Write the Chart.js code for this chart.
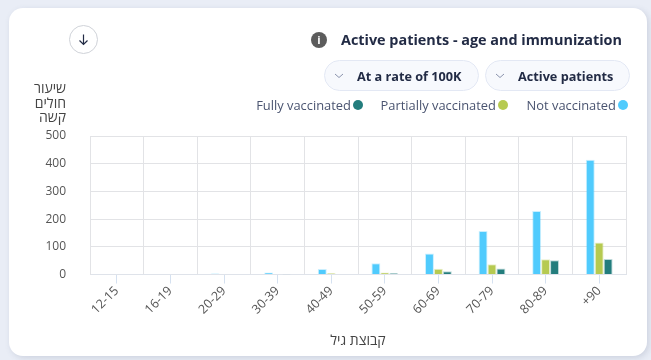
<!DOCTYPE html>
<html>
<head>
<meta charset="utf-8">
<script src="https://cdn.jsdelivr.net/npm/chart.js@4/dist/chart.umd.min.js"></script>
<style>
  html, body { margin: 0; padding: 0; width: 651px; height: 360px; overflow: hidden; background: #e9edf6; font-family: "Open Sans", sans-serif; }
  #card { position: absolute; left: 9px; top: 8px; width: 638px; height: 348px; background: #fff; border-radius: 14px; box-shadow: 2px 2px 6px rgba(80, 90, 120, 0.18); }
  #chart { position: absolute; left: 0; top: 0; }
  .abs { position: absolute; white-space: nowrap; }
  #download { left: 69px; top: 25px; width: 27px; height: 27px; border: 1px solid #cfd2d8; border-radius: 50%; background: #fff; }
  #info { left: 311px; top: 32px; width: 16px; height: 16px; border-radius: 50%; background: #5c5c5c; color: #fff; font: bold 11px/16px "Open Sans", sans-serif; text-align: center; }
  #title { right: 29px; top: 30px; font-size: 14.4px; line-height: 20px; font-weight: 700; color: #222b45; }
  .pill { top: 60px; height: 31px; box-sizing: border-box; border: 1px solid #e3e8f4; border-radius: 16px; background: #f7f9fd; font-size: 12.7px; line-height: 30px; font-weight: 700; color: #222b45; }
  .pill span { position: absolute; top: 0; }
  .pill svg { position: absolute; left: 9px; top: 12px; }
  #legend { top: 96px; font-size: 12.9px; line-height: 18px; color: #4a5470; }
  .legend-item { position: absolute; top: 0; white-space: nowrap; }
  .legend-item i { position: absolute; top: 4px; width: 10px; height: 10px; border-radius: 50%; }
  #ytitle { right: 585px; top: 81px; font-size: 14px; line-height: 14.5px; color: #444; text-align: right; direction: rtl; }
</style>
</head>
<body>
<div id="card"></div>
<canvas id="chart" width="651" height="360"></canvas>

<div id="download" class="abs">
  <svg width="27" height="27" viewBox="0 0 27 27"><path d="M13.5 8.5v9.5M9.5 14.5l4 4 4-4" fill="none" stroke="#222b45" stroke-width="1.2"/></svg>
</div>
<div id="info" class="abs">i</div>
<div id="title" class="abs"></div>
<div id="pill1" class="abs pill" style="left:324px;width:155px"><svg width="10" height="6"><path d="M1 1l4 3.5L9 1" fill="none" stroke="#8a93ad"/></svg><span style="left:32px"></span></div>
<div id="pill2" class="abs pill" style="left:485px;width:145px"><svg width="10" height="6"><path d="M1 1l4 3.5L9 1" fill="none" stroke="#8a93ad"/></svg><span style="left:32px"></span></div>
<div id="legend" class="abs" style="left:0;width:651px;height:18px"></div>
<div id="ytitle" class="abs"></div>

<script>
// --- DATA ---
const ageGroups = ["12-15", "16-19", "20-29", "30-39", "40-49", "50-59", "60-69", "70-79", "80-89", "+90"];
const notVaccinated = [0, 2, 4, 7, 20, 41, 76, 157, 229, 414];
const partlyVaccinated = [0, 0, 0, 2, 5, 7, 21, 37, 55, 116];
const fullyVaccinated = [0, 0, 0, 1, 2, 5, 12, 22, 52, 56];
const yTicks = [0, 100, 200, 300, 400, 500];

const seriesNames = ["Not vaccinated", "Partially vaccinated", "Fully vaccinated"];
const seriesColors = ["#50cbfd", "#b6ca51", "#237d7d"];
const seriesEdges = ["rgba(80,203,253,0.3)", "rgba(182,202,81,0.3)", "rgba(35,125,125,0.3)"];

const titleText = "Active patients - age and immunization";
const pillTexts = ["At a rate of 100K", "Active patients"];
const yTitleLines = ["שיעור", "חולים", "קשה"];
const xTitleText = "קבוצת גיל";

// --- TEXTS ---
document.getElementById("title").textContent = titleText;
document.querySelector("#pill1 span").textContent = pillTexts[0];
document.querySelector("#pill2 span").textContent = pillTexts[1];
document.getElementById("ytitle").innerHTML = yTitleLines.join("<br>");

// --- LEGEND ---
const legendEnds = [616, 496, 351]; // right edge of each label
const legend = document.getElementById("legend");
seriesNames.forEach((name, i) => {
  const item = document.createElement("div");
  item.className = "legend-item";
  item.style.right = 651 - legendEnds[i] + "px";
  item.textContent = name;
  const dot = document.createElement("i");
  dot.style.background = seriesColors[i];
  dot.style.right = "-12px";
  item.appendChild(dot);
  legend.appendChild(item);
});

// --- CHART ---
const gridColor = "#e2e3e6";

new Chart(document.getElementById("chart"), {
  type: "bar",
  data: {
    labels: ageGroups,
    datasets: [notVaccinated, partlyVaccinated, fullyVaccinated].map((values, i) => ({
      label: seriesNames[i],
      data: values,
      backgroundColor: seriesColors[i],
      borderColor: seriesEdges[i],
      borderWidth: 1,
      barPercentage: 1,
      categoryPercentage: 0.5,
      xAxisID: "x",
      yAxisID: "y",
    })),
  },
  options: {
    responsive: false,
    animation: false,
    layout: { padding: { left: 0, right: 25, top: 136, bottom: 11 } },
    plugins: { legend: { display: false }, tooltip: { enabled: false } },
    scales: {
      x: {
        position: "bottom",
        offset: true,
        grid: { offset: false, drawOnChartArea: false, tickLength: 9, tickColor: "#d5e1f0" },
        border: { color: "#dfe3ea", width: 1 },
        ticks: { minRotation: 45, maxRotation: 45, padding: 0, color: "#555", font: { family: "Open Sans", size: 12.5 } },
        title: { display: true, text: xTitleText, color: "#444", padding: { top: 15, bottom: 0 }, font: { family: "Open Sans", size: 14 } },
      },
      // second category axis only draws the gridlines between the groups
      xGrid: {
        type: "category",
        labels: ageGroups,
        position: "top",
        offset: true,
        grid: { offset: true, color: gridColor, drawTicks: false },
        border: { display: false },
        ticks: { display: false },
        afterFit: (axis) => { axis.height = 0; },
      },
      y: {
        min: 0,
        max: 500,
        afterBuildTicks: (axis) => { axis.ticks = yTicks.map((v) => ({ value: v })); },
        afterFit: (axis) => { axis.width = 90; },
        grid: { color: gridColor, drawTicks: false },
        border: { color: gridColor },
        ticks: { padding: 24, color: "#555", font: { family: "Open Sans", size: 12 } },
      },
    },
  },
});
</script>
</body>
</html>
